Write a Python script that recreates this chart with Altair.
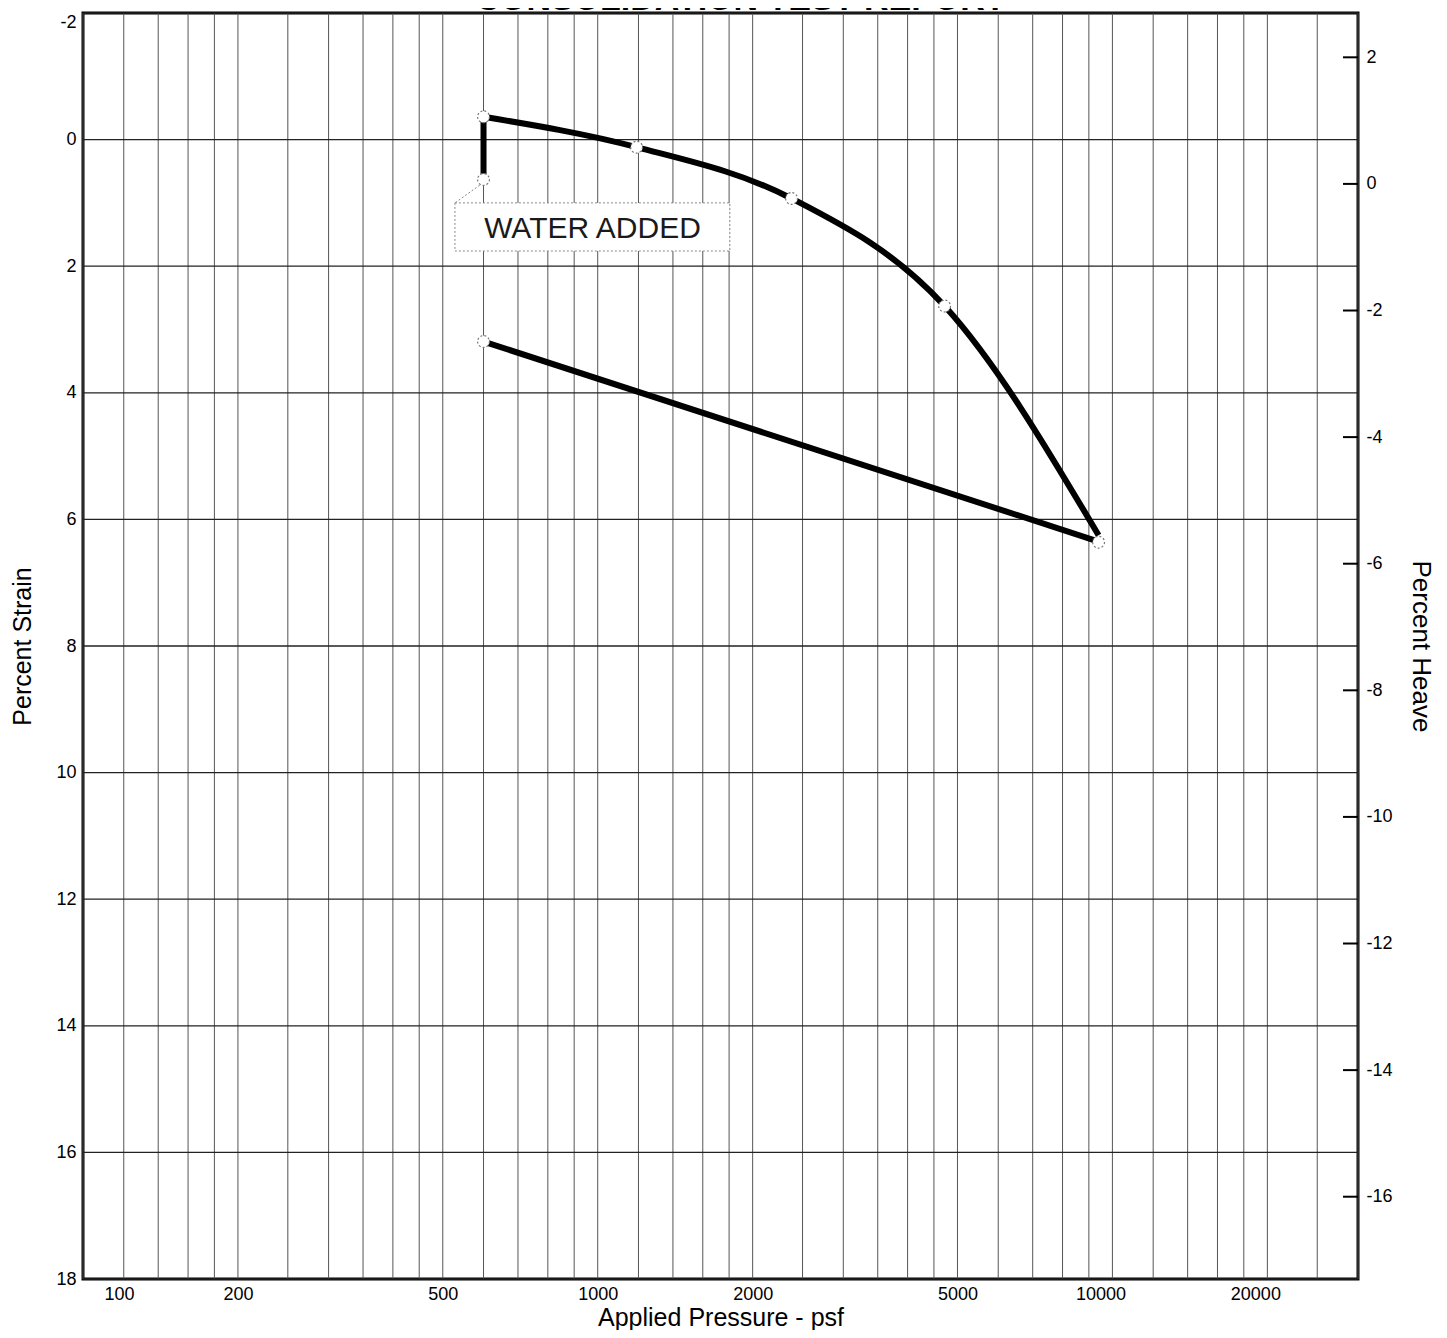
import altair as alt
import pandas as pd

# ---------------- data ----------------
title_text = "CONSOLIDATION TEST REPORT"
x_title = "Applied Pressure - psf"
y_title = "Percent Strain"
y2_title = "Percent Heave"

x_grid = [100, 120, 140, 160, 180, 200, 250, 300, 350, 400, 450, 500, 600, 700, 800, 900,
          1000, 1200, 1400, 1600, 1800, 2000, 2500, 3000, 3500, 4000, 4500, 5000, 6000, 7000,
          8000, 9000, 10000, 12000, 14000, 16000, 18000, 20000, 25000, 30000]
x_labels = [100, 200, 500, 1000, 2000, 5000, 10000, 20000]
strain_ticks = [-2, 0, 2, 4, 6, 8, 10, 12, 14, 16, 18]
heave_ticks = [2, 0, -2, -4, -6, -8, -10, -12, -14, -16]
heave_offset = 0.7  # heave = offset - strain

water_pressure = [600, 600]
water_strain = [0.63, -0.36]
load_pressure = [600, 1190, 2380, 4720, 9400]
load_strain = [-0.36, 0.12, 0.93, 2.63, 6.25]
rebound_pressure = [9400, 600]
rebound_strain = [6.35, 3.19]
point_pressure = [600, 600, 1190, 2380, 4720, 9400, 600]
point_strain = [-0.36, 0.63, 0.12, 0.93, 2.63, 6.36, 3.19]

note_text = "WATER ADDED"
note_box_pressure = [528, 1806]
note_box_strain = [1.0, 1.76]
note_pressure = [977]
note_strain = [1.42]
leader_pressure = [590, 528]
leader_strain = [0.72, 1.0]

# ---------------- chart ----------------
W, H = 1275, 1266
FONT = "Liberation Sans"

xscale = alt.Scale(type="log", domain=[100, 30000], nice=False)
sscale = alt.Scale(domain=[-2, 18], reverse=True, nice=False, zero=False)
hscale = alt.Scale(domain=[heave_offset - 18, heave_offset + 2], nice=False, zero=False)

xaxis = alt.Axis(values=x_labels, labelExpr="'' + datum.value", grid=False, ticks=False,
                 domain=False, labelFontSize=18, labelPadding=6, labelFont=FONT,
                 labelColor="black", labelFlushOffset=-21,
                 labelOffset={"condition": {"test": "datum.value >= 10000", "value": -12},
                              "value": 0},
                 title=x_title, titleFontSize=25,
                 titleFont=FONT, titleFontWeight="normal", titlePadding=2, titleColor="black")
yaxis = alt.Axis(values=strain_ticks, labelExpr="'' + datum.value", grid=False, ticks=False,
                 domain=False, labelFontSize=18, labelPadding=7, labelFont=FONT,
                 labelColor="black",
                 labelBaseline={"condition": {"test": "datum.value == -2", "value": "top"},
                                "value": "middle"},
                 title=y_title, titleFontSize=25, titleFont=FONT,
                 titleFontWeight="normal", titlePadding=20, titleColor="black")
haxis = alt.Axis(orient="right", values=heave_ticks, labelExpr="'' + datum.value", grid=False,
                 ticks=False, domain=False, labelFontSize=18, labelPadding=8, labelFont=FONT,
                 labelColor="black", title=y2_title, titleFontSize=26, titleFont=FONT,
                 titleFontWeight="normal", titlePadding=15, titleColor="black")


def Xf(field):
    return alt.X(field, type="quantitative", scale=xscale, axis=xaxis)


def Yf(field):
    return alt.Y(field, type="quantitative", scale=sscale, axis=yaxis)


vgrid = alt.Chart(pd.DataFrame({"p": x_grid})).mark_rule(color="#555", strokeWidth=1).encode(
    x=Xf("p"))
hgrid = alt.Chart(pd.DataFrame({"s": strain_ticks})).mark_rule(color="#222", strokeWidth=1.3).encode(
    y=Yf("s"))

leader = alt.Chart(pd.DataFrame({"p": [leader_pressure[0]], "p2": [leader_pressure[1]],
                                 "s": [leader_strain[0]], "s2": [leader_strain[1]]})).mark_rule(
    color="#888", strokeWidth=1, strokeDash=[2, 2]).encode(
    x=Xf("p"), x2="p2", y=Yf("s"), y2="s2")

box = alt.Chart(pd.DataFrame({"p": [note_box_pressure[0]], "p2": [note_box_pressure[1]],
                              "s": [note_box_strain[0]], "s2": [note_box_strain[1]]})).mark_rect(
    fill="white", stroke="#888", strokeWidth=1, strokeDash=[2, 2]).encode(
    x=Xf("p"), x2="p2", y=Yf("s"), y2="s2")

note = alt.Chart(pd.DataFrame({"p": note_pressure, "s": note_strain, "t": [note_text]})).mark_text(
    font=FONT, fontSize=30, color="#1a1a1a", align="center", baseline="middle").encode(
    x=Xf("p"), y=Yf("s"), text="t:N")

water = alt.Chart(pd.DataFrame({"p": water_pressure, "s": water_strain, "o": [0, 1]})).mark_line(
    color="black", strokeWidth=6).encode(x=Xf("p"), y=Yf("s"), order="o:Q")
load = alt.Chart(pd.DataFrame({"p": load_pressure, "s": load_strain})).mark_line(
    color="black", strokeWidth=6, interpolate="monotone").encode(x=Xf("p"), y=Yf("s"))
rebound = alt.Chart(pd.DataFrame({"p": rebound_pressure, "s": rebound_strain, "o": [0, 1]})).mark_line(
    color="black", strokeWidth=6).encode(x=Xf("p"), y=Yf("s"), order="o:Q")

points = alt.Chart(pd.DataFrame({"p": point_pressure, "s": point_strain})).mark_point(
    shape="circle", size=140, filled=False, fill="white", fillOpacity=1, stroke="#777",
    strokeWidth=1.2, strokeDash=[2, 2], opacity=1).encode(x=Xf("p"), y=Yf("s"))

inner = alt.layer(vgrid, hgrid, leader, box, note, water, load, rebound, points)

heave = alt.Chart(pd.DataFrame({"h": heave_ticks})).mark_rule(color="black", strokeWidth=2).encode(
    x=alt.value(W - 15), x2=alt.value(W),
    y=alt.Y("h:Q", scale=hscale, axis=haxis))

title = alt.Chart(pd.DataFrame({"t": [title_text]})).mark_text(
    font=FONT, fontSize=34, fontWeight="bold", color="black", align="center",
    baseline="alphabetic").encode(x=alt.value(W / 2 + 20), y=alt.value(-3), text="t:N")

chart = alt.layer(inner, heave, title).resolve_scale(y="independent").properties(
    width=W, height=H,
    autosize=alt.AutoSizeParams(type="none"),
    padding={"left": 75, "top": 5, "right": 81, "bottom": 51},
).configure_view(stroke="black", strokeWidth=3)

chart.save("out.html", embed_options={"renderer": "svg", "actions": False})
